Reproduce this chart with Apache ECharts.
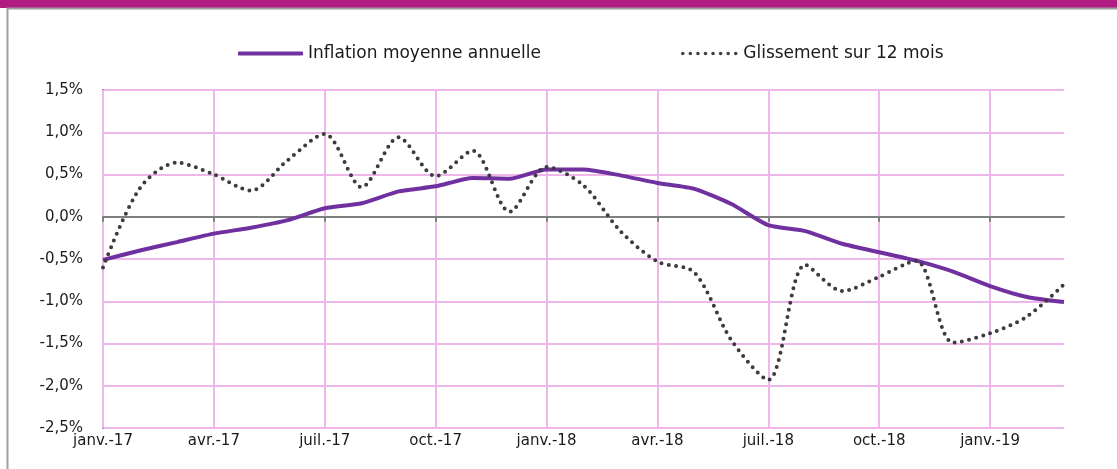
<!DOCTYPE html>
<html>
<head>
<meta charset="utf-8">
<script src="https://cdn.jsdelivr.net/npm/echarts@6/dist/echarts.min.js"></script>
<style>
html, body { margin: 0; padding: 0; background: #fff; }
#chartmain { width: 1117px; height: 469px; }
</style>
</head>
<body>
<div id="chartmain"></div>
<script>
var months = ['janv.-17', 'févr.-17', 'mars-17', 'avr.-17', 'mai-17', 'juin-17', 'juil.-17', 'août-17', 'sept.-17', 'oct.-17', 'nov.-17', 'déc.-17',
	'janv.-18', 'févr.-18', 'mars-18', 'avr.-18', 'mai-18', 'juin-18', 'juil.-18', 'août-18', 'sept.-18', 'oct.-18', 'nov.-18', 'déc.-18',
	'janv.-19', 'févr.-19', 'mars-19'];
var inflationMoyenne = [-0.51, -0.40, -0.30, -0.20, -0.13, -0.04, 0.10, 0.16, 0.30, 0.36, 0.46, 0.45,
	0.56, 0.56, 0.49, 0.40, 0.33, 0.15, -0.10, -0.17, -0.32, -0.42, -0.52, -0.65,
	-0.82, -0.95, -1.01];
var glissement = [-0.60, 0.34, 0.64, 0.50, 0.31, 0.67, 0.98, 0.35, 0.94, 0.48, 0.78, 0.06,
	0.59, 0.37, -0.17, -0.53, -0.66, -1.46, -1.93, -0.57, -0.88, -0.71, -0.52, -1.49,
	-1.38, -1.18, -0.80];
var serieNames = ['Inflation moyenne annuelle', 'Glissement sur 12 mois'];

var font = 'DejaVu Sans';
var pink = '#EEB6EA';
var axisGray = '#7F7F7F';

// icone pointillee de la legende : 8 petits ronds
var dotIcon = 'path://';
for (var i = 0; i < 8; i++) {
	var cx = i * 2.1;
	dotIcon += 'M' + cx + ',0.5a0.5,0.5 0 1,0 1,0a0.5,0.5 0 1,0 -1,0z';
}

var option = {
	animation: false,
	textStyle: { fontFamily: font },
	graphic: [
		{ type: 'rect', shape: { x: 0, y: 0, width: 1117, height: 8 }, style: { fill: '#B01C80' } },
		{ type: 'line', shape: { x1: 7, y1: 8.5, x2: 1117, y2: 8.5 }, style: { stroke: '#A0A0A0', lineWidth: 2 } },
		{ type: 'line', shape: { x1: 7.5, y1: 8, x2: 7.5, y2: 469 }, style: { stroke: '#A0A0A0', lineWidth: 2 } }
	],
	legend: [{
		data: [{ name: serieNames[0], icon: 'roundRect' }],
		left: 233,
		top: 40,
		itemWidth: 65,
		itemHeight: 4,
		itemGap: 7,
		itemStyle: { color: '#7030A0' },
		textStyle: { fontFamily: font, fontSize: 17, color: '#1a1a1a' }
	}, {
		data: [{ name: serieNames[1], icon: dotIcon }],
		left: 676,
		top: 40,
		itemWidth: 58,
		itemHeight: 3.6,
		itemGap: 10,
		itemStyle: { color: '#404040' },
		textStyle: { fontFamily: font, fontSize: 17, color: '#1a1a1a' }
	}],
	grid: {
		left: 103,
		right: 53,
		top: 90,
		bottom: 41
	},
	xAxis: [{
		type: 'category',
		data: months,
		boundaryGap: false,
		axisLine: { onZero: true, lineStyle: { color: axisGray, width: 2 } },
		axisTick: { show: true, interval: 2, length: 5, lineStyle: { color: axisGray, width: 2 } },
		axisLabel: { show: false },
		splitLine: { show: true, interval: 2, lineStyle: { color: pink, width: 2 } },
		z: 3
	}, {
		type: 'category',
		data: months,
		boundaryGap: false,
		position: 'bottom',
		axisLine: { show: false, onZero: false },
		axisTick: { show: false },
		splitLine: { show: false },
		axisLabel: { interval: 2, margin: 6, fontFamily: font, fontSize: 15, color: '#1a1a1a' }
	}],
	yAxis: {
		type: 'value',
		min: -2.5,
		max: 1.5,
		interval: 0.5,
		axisLine: { show: true, lineStyle: { color: axisGray, width: 2 } },
		axisTick: { show: false },
		splitLine: { lineStyle: { color: pink, width: 2 } },
		axisLabel: {
			margin: 20,
			fontFamily: font,
			fontSize: 15,
			color: '#1a1a1a',
			formatter: function (v) { return v.toFixed(1).replace('.', ',') + '%'; }
		}
	},
	series: [{
		name: serieNames[0],
		type: 'line',
		data: inflationMoyenne,
		symbol: 'none',
		smooth: 0.2,
		z: 4,
		lineStyle: { color: '#7030A0', width: 4 },
		itemStyle: { color: '#7030A0' }
	}, {
		name: serieNames[1],
		type: 'line',
		data: glissement,
		symbol: 'none',
		smooth: 0.3,
		z: 5,
		lineStyle: { color: '#3C3C3C', width: 4, type: [0, 7.3], cap: 'round' },
		itemStyle: { color: '#3C3C3C' }
	}]
};

var myChart = echarts.init(document.getElementById('chartmain'));
myChart.setOption(option);
</script>
</body>
</html>
